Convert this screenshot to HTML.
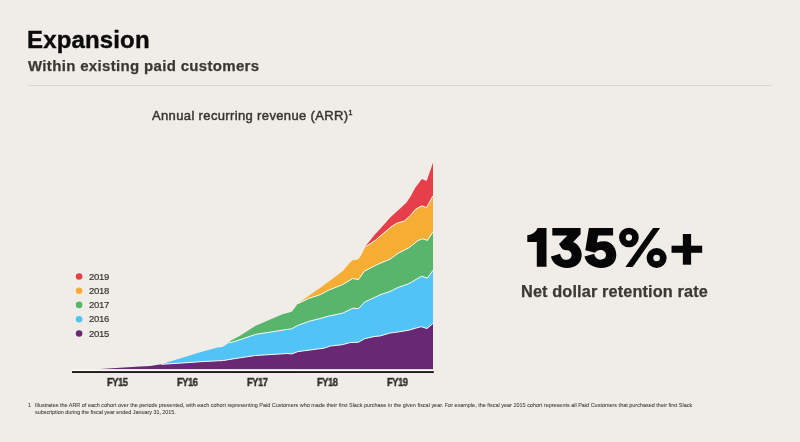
<!DOCTYPE html>
<html><head><meta charset="utf-8"><title>Expansion</title>
<style>
html,body{margin:0;padding:0;}
body{width:800px;height:442px;background:#f0ede8;position:relative;overflow:hidden;font-family:"Liberation Sans",sans-serif;}
.t{position:absolute;white-space:nowrap;line-height:1;transform-origin:0 0;will-change:transform;}
#title{left:27.4px;top:27.9px;font-size:24px;letter-spacing:0.15px;font-weight:bold;color:#0b0b0b;-webkit-text-stroke:0.4px #0b0b0b;}
#sub{left:27.6px;top:57.7px;font-size:15px;letter-spacing:0.33px;font-weight:bold;color:#3b3732;-webkit-text-stroke:0.25px #3b3732;}
#rule{position:absolute;left:27.6px;top:85px;width:744.3px;height:1px;background:#dbd8d3;}
#ct{left:152px;top:108.6px;font-size:13px;letter-spacing:0.36px;color:#37342f;-webkit-text-stroke:0.45px #37342f;}
.lg{font-size:9.5px;letter-spacing:-0.3px;color:#37342f;left:89.3px;-webkit-text-stroke:0.2px #37342f;}
.dot{position:absolute;width:6.6px;height:6.6px;border-radius:50%;left:75.8px;}
.fy{font-size:10.4px;font-weight:bold;color:#2f2c28;letter-spacing:-0.5px;-webkit-text-stroke:0.35px #2f2c28;transform:scaleX(0.9);}
#big{left:525.8px;top:223.4px;font-size:50.3px;letter-spacing:1.6px;font-weight:bold;color:transparent;transform:scaleX(1.075);}
#net{left:521.3px;top:283.1px;font-size:16.3px;letter-spacing:0.13px;font-weight:bold;color:#3b3732;-webkit-text-stroke:0.25px #3b3732;}
.fn{font-size:5.475px;color:#423e39;-webkit-text-stroke:0.07px #423e39;}
svg{position:absolute;left:0;top:0;}
</style></head><body>
<div class="t" id="title">Expansion</div>
<div class="t" id="sub">Within existing paid customers</div>
<div id="rule"></div>
<div class="t" id="ct">Annual recurring revenue (ARR)<span style="font-size:7px;vertical-align:top;position:relative;top:0px;">1</span></div>
<svg width="800" height="442" viewBox="0 0 800 442">
<polygon points="365.2,246.4 375.3,234 380,229.1 390.2,217.4 400.4,208.2 406.5,202.6 410.5,196.5 415.4,187.6 421.9,179 426.6,181.1 433,162.7 433,369.3 365.2,369.3" fill="#e73f49"/>
<polygon points="296.9,304.2 308.7,295.8 320,288 328.1,282 342.6,271.2 350,262.5 352.5,260.3 358,259.5 361.1,255.4 365.2,246.9 375.2,240.4 380,236.2 386.1,231.1 392.2,226 397.3,223 404.4,221 410.5,215.4 415.6,209.2 420,206.8 422,205.9 426.6,207.5 433,195.8 433,369.3 296.9,369.3" fill="#f5ae33"/>
<polyline points="365.2,246.9 375.2,240.4 380,236.2 386.1,231.1 392.2,226 397.3,223 404.4,221 410.5,215.4 415.6,209.2 420,206.8 422,205.9 426.6,207.5 433,195.8" fill="none" stroke="#fbfaf7" stroke-width="1"/>
<polygon points="228,343.4 231,340.5 240,335.7 255.6,325.8 283.1,314.1 289.1,312.6 292,311.6 297.9,303.7 308.7,298.4 320,294.8 328.1,290.4 342.6,284.6 352.5,278.6 358.5,279.5 364.3,271.2 375.2,265.5 380,263.3 390,259.2 398.1,253.3 408.9,247.8 418,240.6 422.5,238.8 427.4,240.4 433,231.9 433,369.3 228,369.3" fill="#57b66b"/>
<polyline points="297.9,303.7 308.7,298.4 320,294.8 328.1,290.4 342.6,284.6 352.5,278.6 358.5,279.5 364.3,271.2 375.2,265.5 380,263.3 390,259.2 398.1,253.3 408.9,247.8 418,240.6 422.5,238.8 427.4,240.4 433,231.9" fill="none" stroke="#fbfaf7" stroke-width="1"/>
<polygon points="161.3,364.3 183.9,357.2 200.9,352.1 217.8,347.6 222.4,347 229.1,343.1 240,339.7 255.6,334.4 287.1,329.4 291.4,328.9 297.9,325.4 308.7,321.4 320,318.5 328.6,316.1 342.5,313.2 352.7,308.3 358.6,308.5 364.7,302 374.9,297.3 380,294.8 390,291.5 398.1,287.4 408.9,283.7 416.1,279.4 421.6,276.2 427.4,278.2 433,270.3 433,369.3 161.3,369.3" fill="#50c4f6"/>
<polyline points="229.1,343.1 240,339.7 255.6,334.4 287.1,329.4 291.4,328.9 297.9,325.4 308.7,321.4 320,318.5 328.6,316.1 342.5,313.2 352.7,308.3 358.6,308.5 364.7,302 374.9,297.3 380,294.8 390,291.5 398.1,287.4 408.9,283.7 416.1,279.4 421.6,276.2 427.4,278.2 433,270.3" fill="none" stroke="#fbfaf7" stroke-width="1"/>
<polygon points="96.5,369.3 120,367.7 140,366.6 150,365.9 161.3,364.3 183.9,362.9 200.9,361.7 223.5,360.5 230,359.4 240,357.8 255.6,355.5 287.1,353.5 292,353.9 297.9,351.6 310,350 323.9,348.2 330.4,346 342.5,344.7 349.9,342.6 358.6,342.2 364.7,338.7 374.9,336.4 380,336 390,333 394.5,332.5 408.9,330.2 416.9,327.8 421.2,326.7 427,328.5 433,323.4 433,369.3 96.5,369.3" fill="#692873"/>
<polyline points="161.3,364.3 183.9,362.9 200.9,361.7 223.5,360.5 230,359.4 240,357.8 255.6,355.5 287.1,353.5 292,353.9 297.9,351.6 310,350 323.9,348.2 330.4,346 342.5,344.7 349.9,342.6 358.6,342.2 364.7,338.7 374.9,336.4 380,336 390,333 394.5,332.5 408.9,330.2 416.9,327.8 421.2,326.7 427,328.5 433,323.4" fill="none" stroke="#fbfaf7" stroke-width="1"/>
<rect x="72" y="369.3" width="361.5" height="1.9" fill="#f9f8f5"/>
<rect x="72" y="371.1" width="361.8" height="1.9" fill="#1d1c1a"/>
<g fill="#060606" stroke="none">
<path d="M537.6,228.1 L546.5,228.1 L546.5,266.65 L536.8,266.65 L536.8,241.9 L527.3,241.9 L527.3,235.2 Q535,234.5 537.6,228.1 Z"/>
<path d="M552.3,228.1 L580.6,228.1 L580.6,234.3 L573.2,241.9 C578.5,244.5 581.7,249.5 581.7,255 C581.7,263 575.5,268 567.2,268 C558.5,268 552.5,263.5 550.9,256.6 L560.2,253.8 C560.8,257.4 563,259.8 566.1,259.8 C569.4,259.8 571.6,257.8 571.6,255 C571.6,252.2 569.4,250.2 566.1,250.2 C564,250.2 562.3,249.4 561.2,247.6 L559,244.1 L567.4,235.4 L552.3,235.4 Z"/>
<path d="M588.9,228.1 L613.1,228.1 L613.1,235.4 L598.1,235.4 L596.9,242.4 C599.5,241.5 602,241.2 604.5,241.3 C611.5,241.6 616.3,247.5 616.3,255 C616.3,263 610,268 601.4,268 C592.5,268 586,263.5 584.5,256.6 L594.2,253.8 C594.9,257.3 597.2,259.7 600.3,259.7 C603.6,259.7 606,257.8 606,255 C606,252 603.6,250 600.3,250 C598.2,250 596.3,250.9 595,252.8 L585.3,250.2 Z"/>
<polygon points="653,228.1 660.1,228.1 632.7,266.9 625.4,266.9"/>
<rect x="671.55" y="245.7" width="30.65" height="7.1"/>
<rect x="682.85" y="234" width="8.25" height="30.7"/>
</g>
<circle cx="628.9" cy="237.5" r="6.5" fill="none" stroke="#060606" stroke-width="6.7"/>
<circle cx="656.6" cy="258" r="6.65" fill="none" stroke="#060606" stroke-width="6.7"/>
<g>
<circle cx="79.1" cy="276.5" r="3.3" fill="#e73f49"/>
<circle cx="79.1" cy="290.7" r="3.3" fill="#f5ae33"/>
<circle cx="79.1" cy="304.9" r="3.3" fill="#57b66b"/>
<circle cx="79.1" cy="319.2" r="3.3" fill="#50c4f6"/>
<circle cx="79.1" cy="333.5" r="3.3" fill="#692873"/>
</g>
</svg>
<div class="t lg" style="top:271.6px">2019</div>
<div class="t lg" style="top:285.8px">2018</div>
<div class="t lg" style="top:300.1px">2017</div>
<div class="t lg" style="top:314.4px">2016</div>
<div class="t lg" style="top:328.7px">2015</div>
<div class="t fy" style="left:107.3px;top:377.8px">FY15</div>
<div class="t fy" style="left:177.2px;top:377.8px">FY16</div>
<div class="t fy" style="left:247.2px;top:377.8px">FY17</div>
<div class="t fy" style="left:317.1px;top:377.8px">FY18</div>
<div class="t fy" style="left:387.1px;top:377.8px">FY19</div>
<div class="t" id="big">135%+</div>
<div class="t" id="net">Net dollar retention rate</div>
<div class="t fn" style="left:27.5px;top:403.3px">1</div>
<div class="t fn" id="fn1" style="left:35px;top:403.3px">Illustrates the ARR of each cohort over the periods presented, with each cohort representing Paid Customers who made their first Slack purchase in the given fiscal year. For example, the fiscal year 2015 cohort represents all Paid Customers that purchased their first Slack</div>
<div class="t fn" id="fn2" style="left:35px;top:409.9px;letter-spacing:-0.04px">subscription during the fiscal year ended January 31, 2015.</div>
</body></html>
